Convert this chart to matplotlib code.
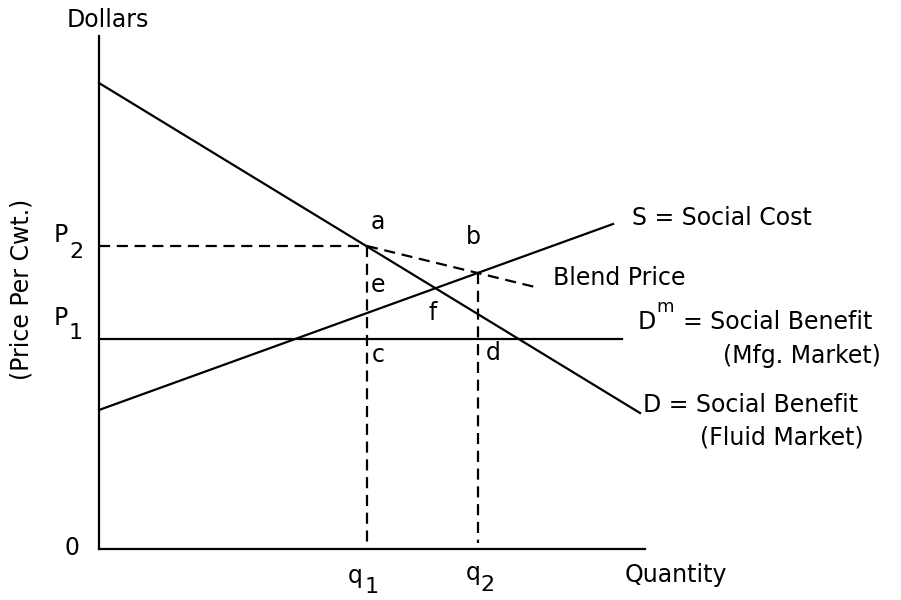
import numpy as np
import matplotlib
matplotlib.use("Agg")
import matplotlib.pyplot as plt

plt.rcParams['font.family'] = ['DejaVu Sans']

# diagram values (quantity, price) in chart units
q1, q2 = 268, 379
P1, P2 = 210, 303
D_x = [0, 541]
D_y = [466, 136]
S_x = [0, 514]
S_y = [139, 325]
Dm_x = [0, 523]
blend_x = [268, 436]
blend_y = [303, 262]
x_axis_end = 546
y_axis_top = 513

fig = plt.figure(figsize=(9.01, 6), dpi=100)
ax = fig.add_axes([0, 0, 1, 1])
ax.set_xlim(-99, 802)
ax.set_ylim(-51, 549)
ax.axis('off')

lw = 1.6
k = 'black'
# axes
ax.plot([0, 0], [0, y_axis_top], color=k, lw=lw)
ax.plot([0, x_axis_end], [0, 0], color=k, lw=lw)

# curves
ax.plot(D_x, D_y, color=k, lw=lw)
ax.plot(S_x, S_y, color=k, lw=lw)
ax.plot(Dm_x, [P1, P1], color=k, lw=lw)

dash = (0, (5, 3))
ax.plot(blend_x, blend_y, color=k, lw=lw, linestyle=dash)
ax.plot([0, q1], [P2, P2], color=k, lw=lw, linestyle=dash)
ax.plot([q1, q1], [P2, 6], color=k, lw=lw, linestyle=dash)
s_at_q2 = S_y[0] + (S_y[1] - S_y[0]) / (S_x[1] - S_x[0]) * q2
ax.plot([q2, q2], [s_at_q2, 6], color=k, lw=lw, linestyle=dash)

fs = 17
fsub = 16


def txt(x, y, s, size=fs, ha='center', **kw):
    ax.text(x, y, s, fontsize=size, ha=ha, va='center', **kw)


txt(9, 529, 'Dollars')
txt(-77, 260, '(Price Per Cwt.)', rotation=90)
txt(-27, 1, '0')
# P labels with big subscripts
txt(-38, 314, 'P')
txt(-23, 297, '2', size=fsub)
txt(-38, 231, 'P')
txt(-23, 216, '1', size=fsub)
# q labels
txt(256, -27, 'q')
txt(273, -38, '1', size=fsub)
txt(374, -24, 'q')
txt(388, -36, '2', size=fsub)
txt(577, -26, 'Quantity')

# point letters
for lab, x, y in [('a', 279, 327), ('b', 374, 312), ('e', 279, 264),
                  ('f', 334, 236), ('c', 279, 194), ('d', 394, 196)]:
    txt(x, y, lab)

txt(533, 331, 'S = Social Cost', ha='left')
txt(454, 271, 'Blend Price', ha='left')
txt(539, 227, 'D', ha='left')
txt(566, 242, 'm', size=13)
txt(584, 227, '= Social Benefit', ha='left')
txt(703, 193, '(Mfg. Market)')
txt(544, 144, 'D = Social Benefit', ha='left')
txt(683, 112, '(Fluid Market)')

fig.savefig('out.png', dpi=100, facecolor='white')
